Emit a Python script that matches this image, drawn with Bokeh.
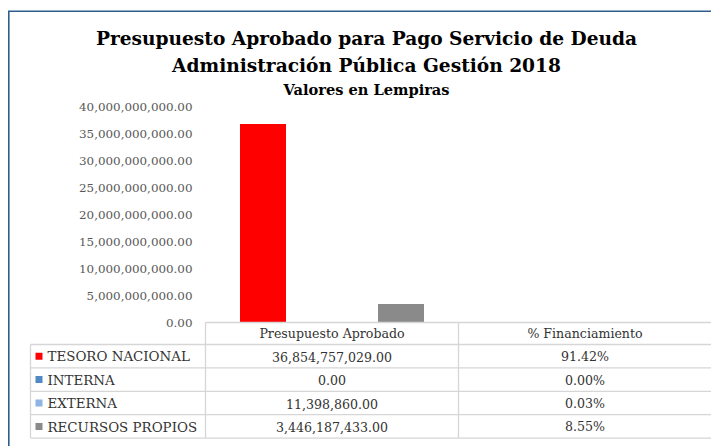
from bokeh.plotting import figure
from bokeh.models import Range1d, LinearAxis, FixedTicker, NumeralTickFormatter
from bokeh.core.properties import value
from bokeh.embed import file_html
from bokeh.resources import INLINE

# ---------------- data ----------------
title_lines = ["Presupuesto Aprobado para Pago Servicio de Deuda",
               "Administración Pública Gestión 2018"]
subtitle = "Valores en Lempiras"
categories = ["Presupuesto Aprobado", "% Financiamiento"]
series = ["TESORO NACIONAL", "INTERNA", "EXTERNA", "RECURSOS PROPIOS"]
colors = ["#FF0000", "#4F8AC6", "#8DB4E2", "#8A8A8A"]
presupuesto = [36854757029.00, 0.00, 11398860.00, 3446187433.00]
financiamiento = [91.42, 0.00, 0.03, 8.55]   # percent
y_ticks = [0, 5e9, 10e9, 15e9, 20e9, 25e9, 30e9, 35e9, 40e9]

# ---------------- layout (canvas pixels) ----------------
W, H = 711, 446
X0 = 205          # left edge of first category
CW = (W - X0) / len(categories)   # category width
Y0 = 322          # pixel of value 0
YTOP = 106.5      # pixel of max tick
ppu = (Y0 - YTOP) / y_ticks[-1]
FONT_NAME = "DejaVu Serif"
SERIF = value(FONT_NAME)

p = figure(width=W, height=H, output_backend="svg", toolbar_location=None,
           x_range=Range1d(-X0 / CW, (W - X0) / CW),
           y_range=Range1d(-(H - Y0) / ppu, Y0 / ppu),
           x_axis_location=None, y_axis_location=None, min_border=0,
           outline_line_color=None, background_fill_color="white",
           border_fill_color="white")
p.extra_x_ranges = {"px": Range1d(0, W)}
p.extra_y_ranges = {"px": Range1d(H, 0)}
p.grid.visible = False

# y axis
yaxis = LinearAxis(fixed_location=0, ticker=FixedTicker(ticks=y_ticks),
                   formatter=NumeralTickFormatter(format="0,0.00"),
                   axis_line_color=None, major_tick_line_color=None,
                   minor_tick_line_color=None, major_tick_in=0, major_tick_out=0,
                   major_label_standoff=13, major_label_text_font=FONT_NAME,
                   major_label_text_font_size="11.9px", major_label_text_color="#595959")
p.add_layout(yaxis, "left")

# bars (clustered, Excel gap width 150%)
n = len(series)
bw = 1.0 / (n + 1.5)
for s in range(n):
    xs = [c + 0.5 + (s - (n - 1) / 2) * bw for c in range(len(categories))]
    tops = [presupuesto[s], financiamiento[s] / 100.0]
    p.vbar(x=xs, top=tops, bottom=0, width=bw, fill_color=colors[s], line_color=None)

# title
TX = 366
p.text(x=[TX], y=[38], text=[title_lines[0]], x_range_name="px", y_range_name="px",
       text_font=SERIF, text_font_style="bold", text_font_size=value("18.6px"),
       text_align="center", text_baseline="alphabetic", text_color="#000000")
p.text(x=[TX], y=[65], text=[title_lines[1]], x_range_name="px", y_range_name="px",
       text_font=SERIF, text_font_style="bold", text_font_size=value("18.6px"),
       text_align="center", text_baseline="alphabetic", text_color="#000000")
p.text(x=[TX], y=[89], text=[subtitle], x_range_name="px", y_range_name="px",
       text_font=SERIF, text_font_style="bold", text_font_size=value("14.6px"),
       text_align="center", text_baseline="alphabetic", text_color="#000000")

# data table
HEAD_H = 22
ROW_H = 23.4
TL = 30   # table left
row_tops = [Y0 + HEAD_H + i * ROW_H for i in range(n)]
row_mid = [t + ROW_H / 2 for t in row_tops]
bottom = Y0 + HEAD_H + n * ROW_H
col_edges = [X0 + i * CW for i in range(len(categories))]
LINE = "#D6D6D6"

hx0 = [X0] + [TL] * (n + 1)
hy = [Y0] + [Y0 + HEAD_H + i * ROW_H for i in range(n + 1)]
hx1 = [W] * len(hy)
p.segment(x0=hx0, y0=hy, x1=hx1, y1=hy, x_range_name="px", y_range_name="px",
          line_color=LINE, line_width=1.3)
vx = [TL] + col_edges
vy0 = [Y0 + HEAD_H] + [Y0] * len(col_edges)
vy1 = [bottom] * len(vx)
p.segment(x0=vx, y0=vy0, x1=vx, y1=vy1, x_range_name="px", y_range_name="px",
          line_color=LINE, line_width=1.3)

TFS = value("12.6px")
TCOL = "#333333"
# header labels
p.text(x=[c + 0.5 for c in range(len(categories))], y=[Y0 + 11] * len(categories),
       text=categories, y_range_name="px", text_font=SERIF, text_font_size=TFS,
       text_align="center", text_baseline="alphabetic", text_color=TCOL)
# legend keys + names
p.rect(x=[TL + 8.5] * n, y=row_mid, width=7, height=7, fill_color=colors,
       line_color=None, x_range_name="px", y_range_name="px")
p.text(x=[TL + 17] * n, y=[m + 0.7 for m in row_mid], text=series,
       x_range_name="px", y_range_name="px", text_font=SERIF,
       text_font_size=value("13.4px"),
       text_align="left", text_baseline="alphabetic", text_color=TCOL)
# values
vals0 = [f"{v:,.2f}" for v in presupuesto]
vals1 = [f"{v:.2f}%" for v in financiamiento]
p.text(x=[0.5] * n, y=[m + 0.5 for m in row_mid], text=vals0, y_range_name="px",
       text_font=SERIF, text_font_size=TFS, text_align="center",
       text_baseline="alphabetic", text_color=TCOL)
p.text(x=[1.5] * n, y=[m + 0.5 for m in row_mid], text=vals1, y_range_name="px",
       text_font=SERIF, text_font_size=TFS, text_align="center",
       text_baseline="alphabetic", text_color=TCOL)

# chart border (left and top visible)
p.segment(x0=[8.3, 7.5], y0=[10.7, 10.7], x1=[8.3, W], y1=[H, 10.7],
          x_range_name="px", y_range_name="px", line_color="#2F5D8E", line_width=1.6)

open("out.html", "w").write(file_html(p, INLINE))
